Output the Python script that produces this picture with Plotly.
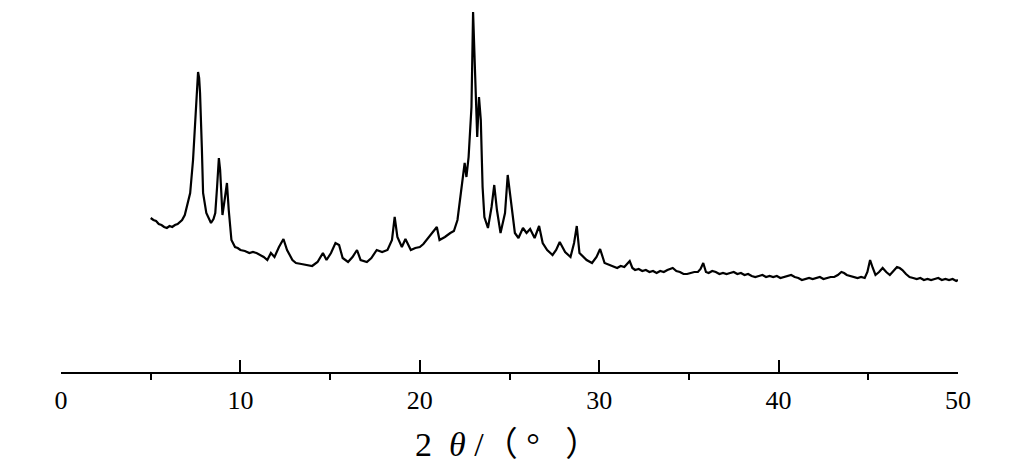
import plotly.graph_objects as go

two_theta = [5.0, 5.15, 5.3, 5.45, 5.6, 5.75, 5.9, 6.05, 6.2, 6.35, 6.5, 6.6, 6.75, 6.9, 7.05, 7.2, 7.36, 7.5,
             7.58, 7.64, 7.7, 7.75, 7.85, 7.92, 8.1, 8.25, 8.36, 8.5, 8.6, 8.7, 8.8, 8.87, 8.95, 9.0, 9.12,
             9.25, 9.35, 9.45, 9.5, 9.7, 9.85, 10.0, 10.25, 10.5, 10.7, 10.9, 11.1, 11.3, 11.5, 11.7, 11.9,
             12.15, 12.4, 12.6, 12.9, 13.1, 13.4, 13.7, 14.0, 14.3, 14.6, 14.8, 15.05, 15.3, 15.5, 15.7,
             16.0, 16.25, 16.5, 16.7, 17.05, 17.3, 17.6, 17.9, 18.2, 18.45, 18.6, 18.75, 19.0, 19.2, 19.5,
             19.75, 20.0, 20.2, 20.45, 20.65, 20.95, 21.1, 21.4, 21.7, 21.9, 22.1, 22.35, 22.5, 22.6, 22.72,
             22.88, 22.97, 23.07, 23.2, 23.3, 23.4, 23.5, 23.6, 23.8, 24.0, 24.15, 24.3, 24.5, 24.75, 24.9,
             25.1, 25.3, 25.5, 25.75, 25.95, 26.15, 26.4, 26.65, 26.85, 27.1, 27.4, 27.6, 27.8, 28.1, 28.4,
             28.6, 28.75, 28.9, 29.3, 29.6, 29.85, 30.05, 30.3,
             30.6, 30.8, 31.0, 31.2, 31.4, 31.55, 31.7, 31.85, 32.0, 32.2, 32.4, 32.6, 32.8, 33.0, 33.2,
             33.4, 33.6, 33.8, 34.0, 34.1, 34.3, 34.5, 34.7, 34.9, 35.1, 35.3, 35.5, 35.65, 35.8, 35.95,
             36.1, 36.3, 36.5, 36.7, 36.9, 37.1, 37.3, 37.5, 37.7, 37.9, 38.1, 38.3, 38.5, 38.7, 38.9,
             39.1, 39.3, 39.5, 39.7, 39.9, 40.1, 40.3, 40.5, 40.7, 40.9, 41.1, 41.3, 41.5, 41.7, 41.9,
             42.1, 42.3, 42.5, 42.7, 42.9, 43.1, 43.3, 43.5, 43.65, 43.8, 44.0, 44.2, 44.4, 44.6, 44.8,
             44.95, 45.1, 45.25, 45.4, 45.6, 45.8, 46.0, 46.2, 46.4, 46.6, 46.75, 46.9, 47.1, 47.3, 47.5,
             47.7, 47.9, 48.1, 48.3, 48.5, 48.7, 48.9, 49.1, 49.3, 49.5, 49.7, 49.9, 50.0]

intensity = [154, 152, 151, 148, 147, 145, 144, 146, 145, 147, 148, 150, 152, 157, 167, 179, 212, 262,
             292, 300, 294, 279, 225, 179, 159, 153, 149, 153, 159, 185, 214, 202, 179, 157, 172,
             189, 162, 142, 132, 125, 124, 122, 121, 119, 120, 119, 117, 115, 112, 119, 115,
             125, 133, 122, 112, 109, 108, 107, 106, 110, 119, 112, 119, 129, 127, 114,
             110, 115, 122, 112, 110, 114, 122, 120, 122, 132, 155, 135, 125, 133, 122,
             124, 125, 128, 134, 139, 145, 132, 135, 139, 141, 152, 185, 209, 195, 215,
             265, 360, 305, 235, 275, 252, 185, 155, 144, 165, 187, 162, 139, 159, 197,
             165, 139, 134, 144, 139, 143, 134, 146, 129, 122, 117, 122, 130, 120, 115,
             129, 146, 119, 112, 109, 115, 123, 109,
             107, 106, 104, 106, 105, 108, 111, 104, 102, 103, 101, 102, 100, 101, 99,
             101, 100, 102, 103, 104, 101, 100, 98, 98, 99, 100, 100, 103, 109, 100,
             99, 101, 100, 98, 99, 98, 99, 100, 98, 99, 97, 98, 96, 95, 96,
             97, 95, 96, 95, 96, 94, 95, 96, 97, 95, 94, 92, 93, 94, 93,
             94, 95, 93, 94, 95, 95, 97, 100, 99, 97, 96, 95, 94, 95, 94,
             100, 112, 104, 97, 100, 104, 100, 97, 101, 105, 104, 102, 98, 95, 94,
             93, 94, 92, 93, 92, 93, 94, 92, 93, 92, 93, 91, 92]

x_major_ticks = [0, 10, 20, 30, 40, 50]
x_tick_labels = ["0", "10", "20", "30", "40", "50"]
x_minor_ticks = [5, 15, 25, 35, 45]
x_title = "2  <i>θ</i> /（ °   ）"

fig = go.Figure()
fig.add_trace(go.Scatter(x=two_theta, y=intensity, mode="lines",
                         line=dict(color="black", width=2.2), showlegend=False))

fig.update_layout(
    width=1021, height=470,
    margin=dict(l=53, r=71, t=0, b=106),
    paper_bgcolor="white", plot_bgcolor="white",
    font=dict(family="Liberation Serif", color="black"),
    xaxis=dict(
        range=[0, 50], showgrid=False, zeroline=False,
        showline=True, linecolor="black", linewidth=2,
        tickmode="array", tickvals=x_major_ticks, ticktext=x_tick_labels,
        ticks="inside", ticklen=12, tickwidth=2, tickcolor="black",
        tickfont=dict(family="Liberation Serif", size=26, color="black"),
        ticklabelstandoff=4,
        minor=dict(ticks="outside", ticklen=6, tickwidth=2, tickcolor="black",
                   tickvals=x_minor_ticks, showgrid=False),
    ),
    yaxis=dict(range=[0, 364], visible=False, showgrid=False, zeroline=False),
    annotations=[dict(text=x_title, xref="paper", yref="paper", x=0.497, y=-0.198,
                      xanchor="center", yanchor="middle", showarrow=False,
                      font=dict(family="Liberation Serif, Noto Sans CJK SC", size=34, color="black"))],
)

fig.write_html("out.html")
